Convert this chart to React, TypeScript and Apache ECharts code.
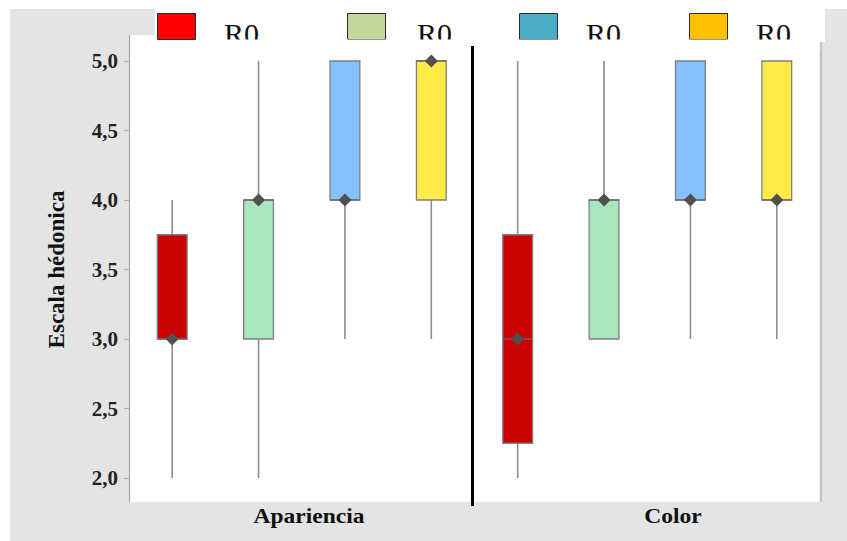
import React, { useEffect, useRef } from "react";
import * as echarts from "echarts";

// ---- data ----
const groupLabels = ["Apariencia", "Color"];
const legendLabels = ["R0", "R0", "R0", "R0"];
const legendColors = ["#ff0000", "#c4d79b", "#4bacc6", "#ffc000"];
const boxColors = ["#cc0000", "#a8e6be", "#86c1ff", "#ffea47"];
// [min, Q1, median, Q3, max]
const aparienciaStats = [
  [2, 3, 3, 3.75, 4],
  [2, 3, 4, 4, 5],
  [3, 4, 4, 5, 5],
  [3, 4, 5, 5, 5],
];
const colorStats = [
  [2, 2.25, 3, 3.75, 5],
  [3, 3, 4, 4, 5],
  [3, 4, 4, 5, 5],
  [3, 4, 4, 5, 5],
];
const yTicks = { min: 2, max: 5, interval: 0.5 };
const yAxisName = "Escala hédonica";

const SERIF = "'Liberation Serif', 'Times New Roman', serif";

export default function App() {
  const ref = useRef<HTMLDivElement>(null);

  useEffect(() => {
    if (!ref.current) return;
    const chart = echarts.init(ref.current, undefined, { renderer: "svg" });

    const allStats = [...aparienciaStats, ...colorStats];
    const slots = allStats.map((_, i) => String(i));
    const data = allStats.map((s, i) => [i, ...s]);

    const legendSquareX = [157, 347, 519, 689];
    const legendTextX = [224, 417, 586, 756];
    const groupLabelX = [309, 673];

    const graphics: any[] = [
      // outer gray frame
      { type: "rect", z: -30, shape: { x: 10, y: 9, width: 837, height: 532 }, style: { fill: "#e4e4e4" } },
      // legend white box
      { type: "rect", z: -20, shape: { x: 155, y: 0, width: 670, height: 42 }, style: { fill: "#ffffff" } },
      // plot white area
      { type: "rect", z: -20, shape: { x: 129, y: 35, width: 691, height: 467 }, style: { fill: "#ffffff" } },
      // left axis line
      { type: "line", z: -5, shape: { x1: 129.5, y1: 35, x2: 129.5, y2: 502 }, style: { stroke: "#a8a8a8", lineWidth: 1.2 } },
      // right border
      { type: "line", z: -5, shape: { x1: 821, y1: 42, x2: 821, y2: 502 }, style: { stroke: "#c4c4c4", lineWidth: 2.5 } },
    ];

    legendLabels.forEach((lbl, i) => {
      graphics.push({
        type: "rect",
        z: 50,
        shape: { x: legendSquareX[i] + 0.5, y: 13.5, width: 38, height: 26 },
        style: { fill: legendColors[i], stroke: "#2a2a2a", lineWidth: 1 },
      });
      graphics.push({
        type: "text",
        z: 50,
        x: legendTextX[i],
        y: 48,
        style: {
          text: lbl,
          fill: "#111",
          font: `normal 30px ${SERIF}`,
          textAlign: "left",
          textVerticalAlign: "bottom",
          verticalAlign: "bottom",
        },
      });
    });
    // clip the legend text bottoms
    graphics.push({ type: "rect", z: 60, shape: { x: 200, y: 39.5, width: 620, height: 12 }, style: { fill: "#ffffff" } });
    // group divider
    graphics.push({ type: "line", z: 70, shape: { x1: 472.5, y1: 46, x2: 472.5, y2: 506 }, style: { stroke: "#000", lineWidth: 3 } });
    // group labels
    groupLabels.forEach((g, i) => {
      graphics.push({
        type: "text",
        z: 70,
        x: groupLabelX[i],
        y: 516,
        scaleX: 1.12,
        style: {
          text: g,
          fill: "#111",
          font: `bold 21px ${SERIF}`,
          textAlign: "center",
          textVerticalAlign: "middle",
          verticalAlign: "middle",
        },
      });
    });

    chart.setOption({
      animation: false,
      backgroundColor: "#ffffff",
      grid: { left: 129, right: 27, top: 61, bottom: 63, containLabel: false },
      xAxis: {
        type: "category",
        data: slots,
        boundaryGap: true,
        axisLine: { show: false },
        axisTick: { show: false },
        axisLabel: { show: false },
        splitLine: { show: false },
      },
      yAxis: {
        type: "value",
        min: yTicks.min,
        max: yTicks.max,
        interval: yTicks.interval,
        name: yAxisName,
        nameLocation: "middle",
        nameGap: 61,
        nameTextStyle: { fontFamily: SERIF, fontWeight: "bold", fontSize: 23, color: "#111" },
        axisLine: { show: false },
        axisTick: { show: true, length: 5, lineStyle: { color: "#b0b0b0" } },
        splitLine: { show: false },
        axisLabel: {
          margin: 11,
          fontFamily: SERIF,
          fontWeight: "bold",
          fontSize: 21,
          color: "#222",
          formatter: (v: number) => v.toFixed(1).replace(".", ","),
        },
      },
      graphic: graphics,
      series: [
        {
          type: "custom",
          z: 80,
          data,
          encode: { x: 0, y: [1, 2, 3, 4, 5] },
          renderItem: (params: any, api: any) => {
            const idx = api.value(0);
            const x = api.coord([idx, api.value(1)])[0];
            const yMin = api.coord([idx, api.value(1)])[1];
            const yQ1 = api.coord([idx, api.value(2)])[1];
            const yMed = api.coord([idx, api.value(3)])[1];
            const yQ3 = api.coord([idx, api.value(4)])[1];
            const yMax = api.coord([idx, api.value(5)])[1];
            const w = api.size([1, 0])[0] * 0.345;
            const color = boxColors[idx % boxColors.length];
            const d = 6.5;
            return {
              type: "group",
              children: [
                { type: "line", shape: { x1: x, y1: yMax, x2: x, y2: yMin }, style: { stroke: "#8e8e8e", lineWidth: 1.6 } },
                { type: "rect", shape: { x: x - w / 2, y: yQ3, width: w, height: yQ1 - yQ3 }, style: { fill: color, stroke: "#7f7f7f", lineWidth: 1.3 } },
                { type: "line", shape: { x1: x - w / 2, y1: yMed, x2: x + w / 2, y2: yMed }, style: { stroke: "#666", lineWidth: 1.3 } },
                {
                  type: "polygon",
                  shape: { points: [[x - d, yMed], [x, yMed - d], [x + d, yMed], [x, yMed + d]] },
                  style: { fill: "#505050" },
                },
              ],
            };
          },
        },
      ],
    });

    return () => chart.dispose();
  }, []);

  return (
    <div
      ref={ref}
      style={{ position: "fixed", left: 0, top: 0, width: 847, height: 541 }}
    />
  );
}
